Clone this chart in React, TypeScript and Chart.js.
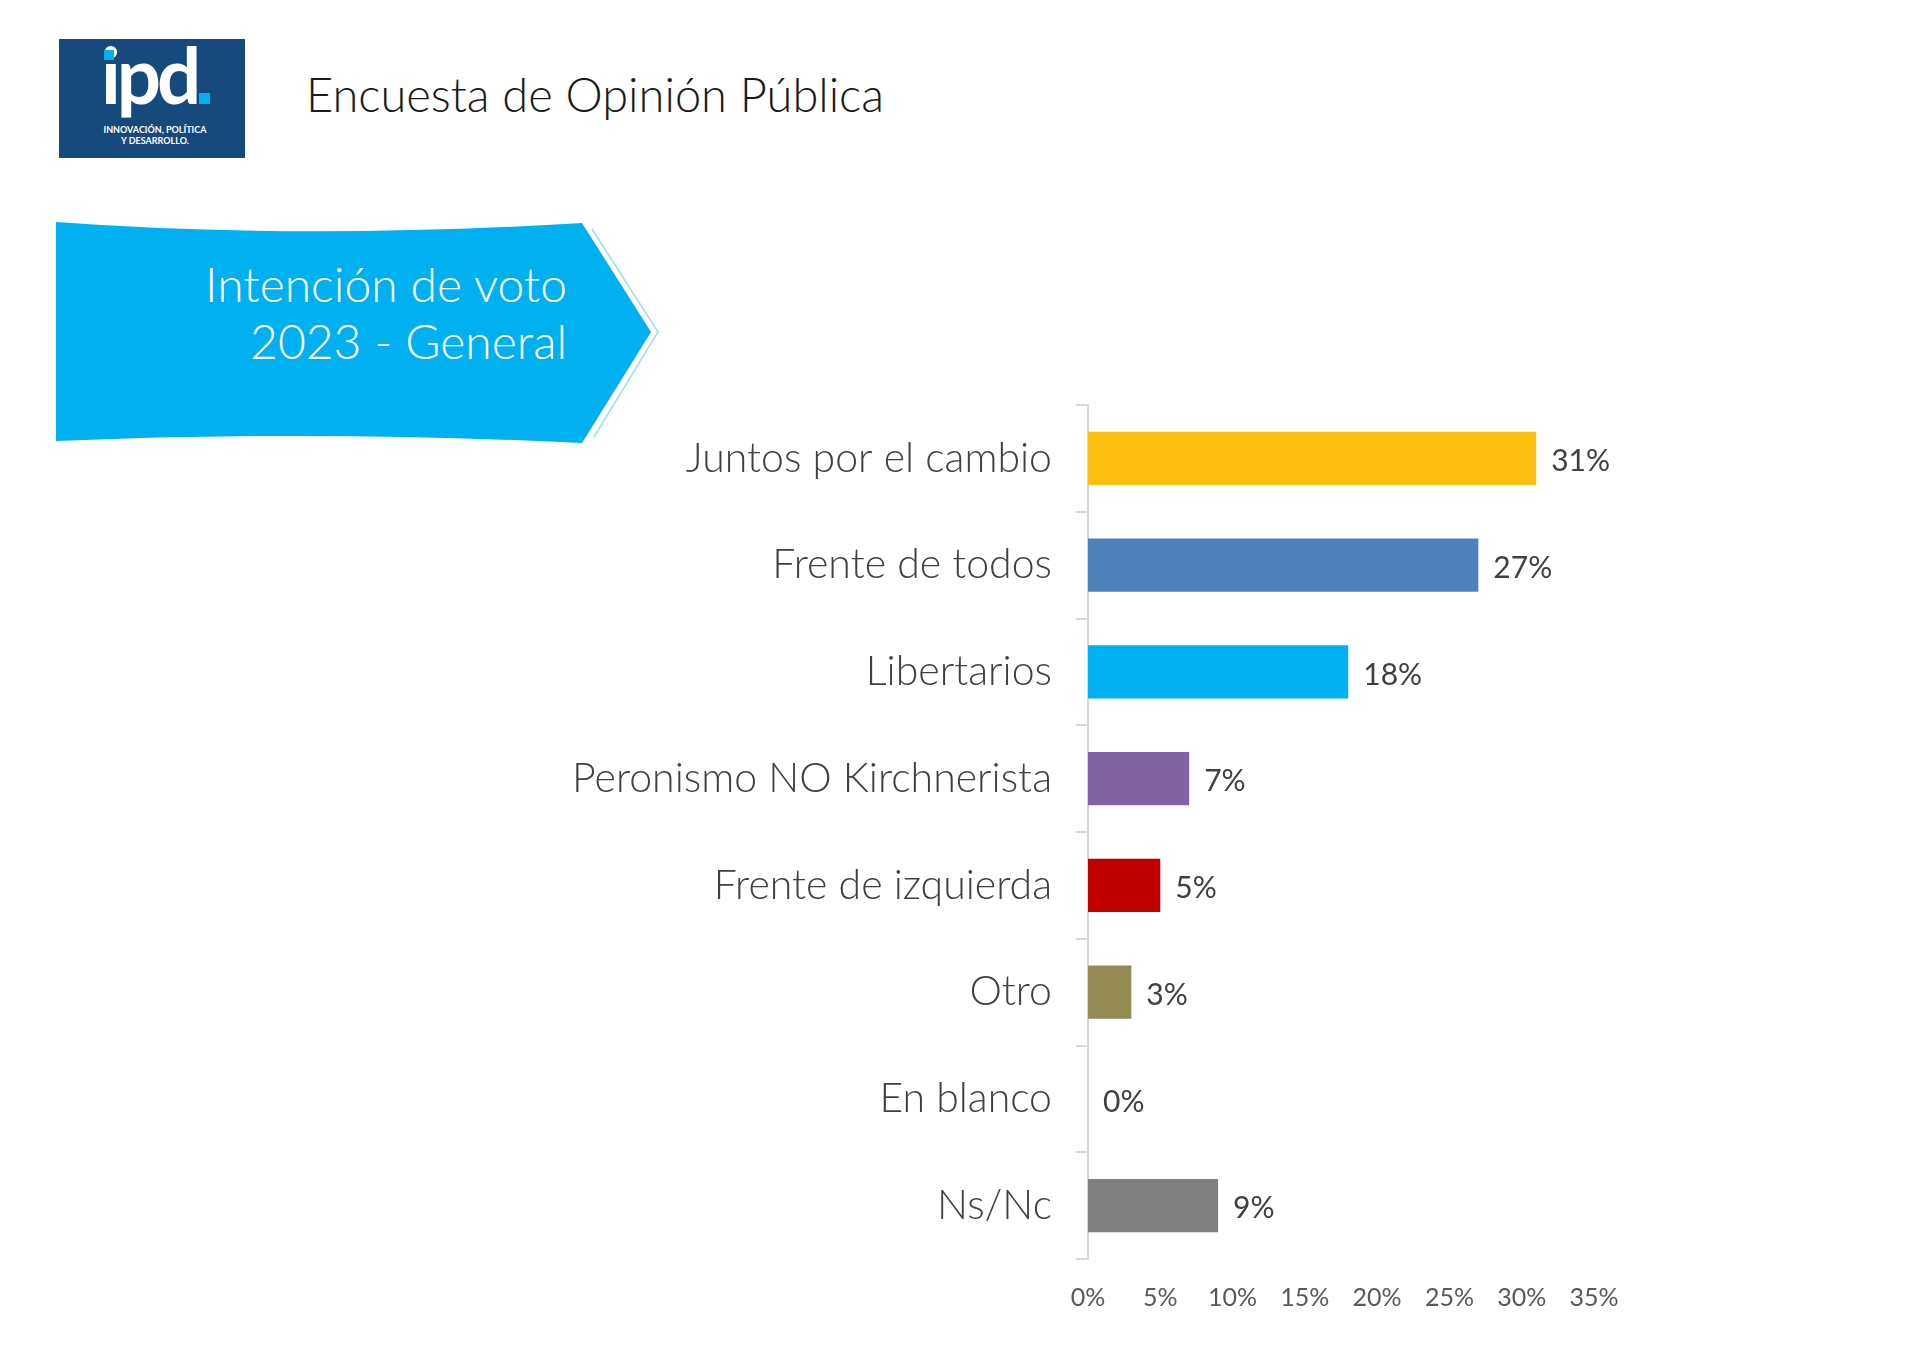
import React, { useEffect, useRef } from "react";
import { Chart, registerables } from "chart.js";

Chart.register(...registerables);

const categories = [
  "Juntos por el cambio",
  "Frente de todos",
  "Libertarios",
  "Peronismo NO Kirchnerista",
  "Frente de izquierda",
  "Otro",
  "En blanco",
  "Ns/Nc",
];
const values = [31, 27, 18, 7, 5, 3, 0, 9];
const valueLabels = ["31%", "27%", "18%", "7%", "5%", "3%", "0%", "9%"];
const barColors = ["#FDC010", "#4F81BD", "#00B0F0", "#8064A2", "#C00000", "#948A54", "#BFBFBF", "#808080"];
const xTickLabels = ["0%", "5%", "10%", "15%", "20%", "25%", "30%", "35%"];

const FONT = "Lato, 'Open Sans', sans-serif";

const valueLabelPlugin = {
  id: "valueLabels",
  afterDatasetsDraw(chart: any) {
    const ctx = chart.ctx;
    const meta = chart.getDatasetMeta(0);
    ctx.save();
    ctx.font = `30px ${FONT}`;
    ctx.fillStyle = "#404040";
    ctx.textAlign = "left";
    ctx.textBaseline = "middle";
    meta.data.forEach((bar: any, i: number) => {
      ctx.fillText(valueLabels[i], bar.x + 15, bar.y + 3);
    });
    ctx.restore();
  },
};

export default function App() {
  const canvasRef = useRef<HTMLCanvasElement | null>(null);

  useEffect(() => {
    if (!canvasRef.current) return;
    const chart = new Chart(canvasRef.current, {
      type: "bar",
      data: {
        labels: categories,
        datasets: [
          {
            data: values,
            backgroundColor: barColors,
            borderWidth: 0,
            categoryPercentage: 1,
            barPercentage: 0.5,
          },
        ],
      },
      options: {
        indexAxis: "y",
        animation: false,
        responsive: false,
        maintainAspectRatio: false,
        layout: { padding: { left: 488, top: 405, right: 326, bottom: 53 } },
        plugins: { legend: { display: false }, tooltip: { enabled: false }, title: { display: false } },
        scales: {
          x: {
            min: 0,
            max: 35,
            ticks: {
              stepSize: 5,
              callback: (_v: any, i: number) => xTickLabels[i],
              font: { family: FONT, size: 25 },
              color: "#595959",
              padding: 16,
              maxRotation: 0,
            },
            grid: { display: false },
            border: { display: false },
            afterFit: (s: any) => {
              s.height = 60;
            },
          },
          y: {
            grid: {
              drawOnChartArea: false,
              drawTicks: true,
              tickLength: 12,
              color: "#D9D9D9",
              offset: true,
              lineWidth: 2,
            },
            border: { display: true, color: "#D9D9D9", width: 2 },
            ticks: {
              font: { family: FONT, size: 41, weight: 300 },
              color: "#404040",
              padding: 24,
            },
            afterFit: (s: any) => {
              s.width = 600;
            },
          },
        },
      },
      plugins: [valueLabelPlugin],
    });
    return () => chart.destroy();
  }, []);

  return (
    <div style={{ position: "absolute", left: 0, top: 0, width: 1920, height: 1372, background: "#fff", overflow: "hidden" }}>
      <svg width={1920} height={1372} style={{ position: "absolute", left: 0, top: 0 }}>
        {/* logo */}
        <rect x={59} y={39} width={186} height={119} fill="#174A7C" />
        <text x={101} y={104} fill="#fff" fontFamily={FONT} fontWeight={700} fontSize={78} letterSpacing={-4}>
          ipd
        </text>
        <rect x={199} y={93} width={11} height={11} fill="#00B0F0" />
        <rect x={104} y={50} width={10} height={10} fill="#00B0F0" />
        <text x={155} y={133} fill="#fff" fontFamily={FONT} fontWeight={700} fontSize={9} textAnchor="middle">
          INNOVACIÓN, POLÍTICA
        </text>
        <text x={155} y={144} fill="#fff" fontFamily={FONT} fontWeight={700} fontSize={9} textAnchor="middle">
          Y DESARROLLO.
        </text>
        {/* banner */}
        <path
          d="M56,222 Q300,240 582,223 L651,332 L582,443 Q320,430 56,441 Z"
          fill="#00B0F0"
        />
        <path d="M592,229 L658,332 L594,437" fill="none" stroke="#9FDDF7" strokeWidth={1.5} />
        <text x={567} y={302} fill="#fff" fontFamily={FONT} fontWeight={300} fontSize={48} textAnchor="end">
          Intención de voto
        </text>
        <text x={567} y={359} fill="#fff" fontFamily={FONT} fontWeight={300} fontSize={48} textAnchor="end">
          2023 - General
        </text>
        {/* title */}
        <text x={306} y={112} fill="#1A1A1A" fontFamily={FONT} fontWeight={300} fontSize={47}>
          Encuesta de Opinión Pública
        </text>
      </svg>
      <canvas
        ref={canvasRef}
        width={1920}
        height={1372}
        style={{ position: "absolute", left: 0, top: 0, width: 1920, height: 1372 }}
      />
    </div>
  );
}
